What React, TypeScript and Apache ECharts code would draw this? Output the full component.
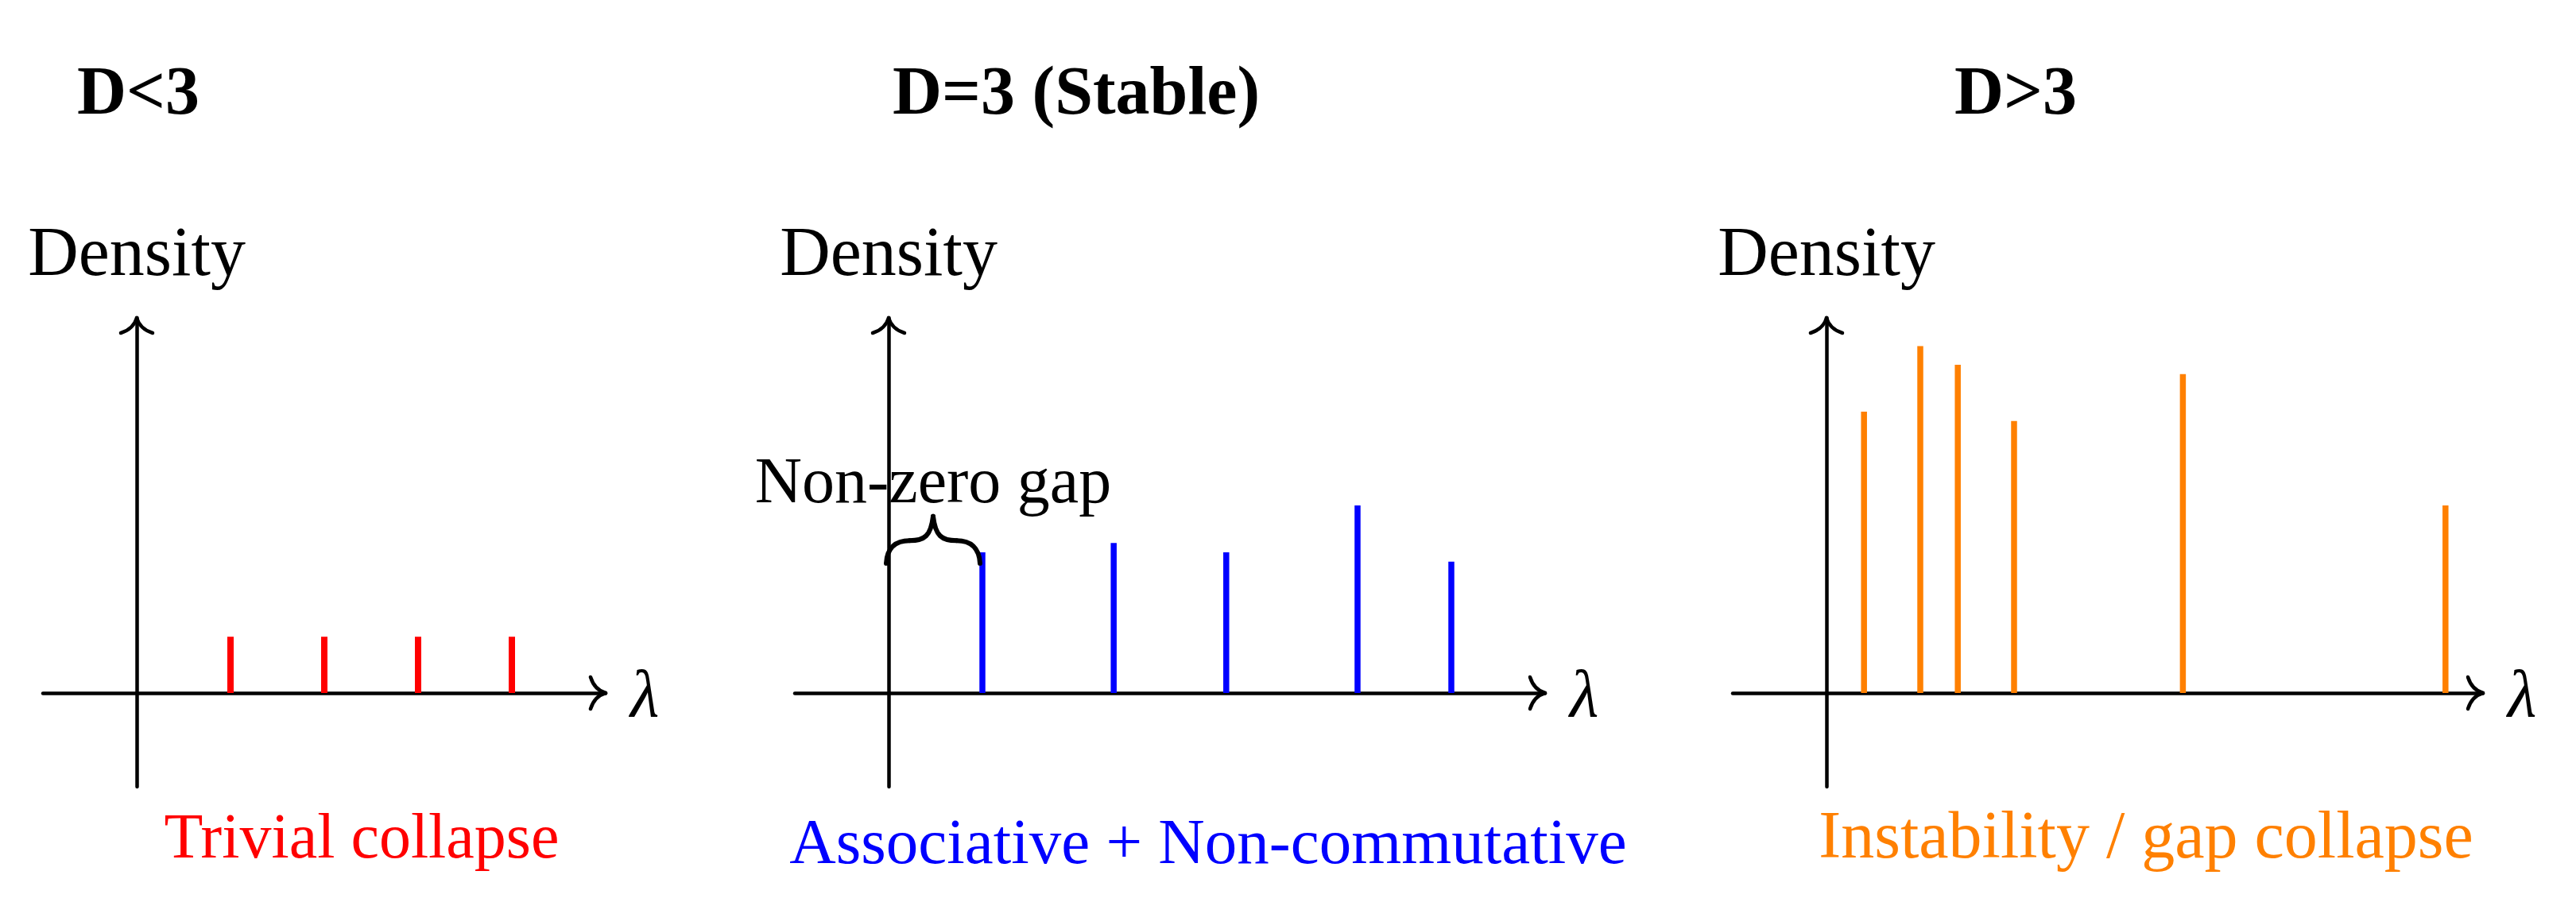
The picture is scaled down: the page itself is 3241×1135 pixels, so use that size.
import React, { useEffect, useRef } from "react";
import * as echarts from "echarts";

// ---------------- data ----------------
const panelTitles = ["D<3", "D=3 (Stable)", "D>3"];
const panelCaptions = ["Trivial collapse", "Associative + Non-commutative", "Instability / gap collapse"];
const yAxisName = "Density";
const xAxisName = "λ";
const gapLabel = "Non-zero gap";

const xMins = [-1, -1, -1];
const xMaxs = [5, 7, 7];
const yMin = -1;
const yMax = 4;

const lambdaLow = [1, 2, 3, 4];
const densityLow = [0.6, 0.6, 0.6, 0.6];
const lambdaStable = [1, 2.4, 3.6, 5, 6];
const densityStable = [1.5, 1.6, 1.5, 2.0, 1.4];
const lambdaHigh = [0.4, 1.0, 1.4, 2.0, 3.8, 6.6];
const densityHigh = [3.0, 3.7, 3.5, 2.9, 3.4, 2.0];
const gapStart = 0;
const gapEnd = 1;
const gapLevel = 1.4;

// ---------------- layout / style ----------------
const W = 3241;
const H = 1135;
const UNIT = 118;
const ORIGIN_Y = 872;
const ORIGIN_X = [172, 1118, 2298];
const COLORS = ["#ff0000", "#0000ff", "#ff8000"];
const BAR_W = [8, 7.5, 7.5];
const FONT = "'Liberation Serif', 'Times New Roman', serif";
const CENTRAL = 0.3375; // central baseline offset (em) for Liberation Serif

const TITLE_CX = [174, 1354, 2536];
const TITLE_SIZE = 86;
const TITLE_BASE = 143;
const DENS_SIZE = 88;
const DENS_BASE = 346;
const CAP_CX = [455, 1520, 2700];
const CAP_SIZE = [80, 81, 84];
const CAP_BASE = [1079, 1086, 1079];
const LAMBDA_SIZE = 84;

const seriesData = [
  lambdaLow.map((x, i) => [x, densityLow[i]]),
  lambdaStable.map((x, i) => [x, densityStable[i]]),
  lambdaHigh.map((x, i) => [x, densityHigh[i]]),
];

function textEl(text: string, x: number, y: number, size: number, opts: any = {}) {
  const align = opts.align || "center";
  return {
    type: "text",
    x,
    y,
    z: 50,
    style: {
      text,
      fill: opts.color || "#000",
      fontSize: size,
      fontFamily: FONT,
      fontWeight: opts.weight || "normal",
      fontStyle: opts.style || "normal",
      align,
      textAlign: align,
      verticalAlign: "middle",
      textVerticalAlign: "middle",
    },
  };
}

export default function App() {
  const ref = useRef<HTMLDivElement>(null);

  useEffect(() => {
    document.body.style.margin = "0";
    if (!ref.current) return;
    const chart = echarts.init(ref.current, null, { renderer: "svg", width: W, height: H });

    const grids: any[] = [];
    const xAxes: any[] = [];
    const yAxes: any[] = [];
    const series: any[] = [];
    const graphics: any[] = [];

    const axisLineStyle = { color: "#000", width: 4.5 };

    for (let i = 0; i < 3; i++) {
      grids.push({
        left: ORIGIN_X[i] + xMins[i] * UNIT,
        top: ORIGIN_Y - yMax * UNIT,
        width: (xMaxs[i] - xMins[i]) * UNIT,
        height: (yMax - yMin) * UNIT,
        containLabel: false,
      });
      xAxes.push({
        type: "value",
        gridIndex: i,
        min: xMins[i],
        max: xMaxs[i],
        axisLine: { show: true, onZero: true, lineStyle: axisLineStyle },
        axisTick: { show: false },
        axisLabel: { show: false },
        splitLine: { show: false },
      });
      yAxes.push({
        type: "value",
        gridIndex: i,
        min: yMin,
        max: yMax,
        axisLine: { show: true, onZero: true, lineStyle: axisLineStyle },
        axisTick: { show: false },
        axisLabel: { show: false },
        splitLine: { show: false },
      });

      // spectral lines
      const color = COLORS[i];
      const bw = BAR_W[i];
      series.push({
        type: "custom",
        xAxisIndex: i,
        yAxisIndex: i,
        z: 5,
        data: seriesData[i],
        encode: { x: 0, y: 1 },
        renderItem: (params: any, api: any) => {
          const x = api.value(0);
          const h = api.value(1);
          const p0 = api.coord([x, 0]);
          const p1 = api.coord([x, h]);
          return {
            type: "rect",
            shape: { x: p0[0] - bw / 2, y: p1[1], width: bw, height: p0[1] - p1[1] },
            style: { fill: color },
          };
        },
      });

      // arrow heads at the ends of both axes
      series.push({
        type: "custom",
        xAxisIndex: i,
        yAxisIndex: i,
        z: 6,
        data: [
          [xMaxs[i], 0, 0],
          [0, yMax, 1],
        ],
        encode: { x: 0, y: 1 },
        renderItem: (params: any, api: any) => {
          const p = api.coord([api.value(0), api.value(1)]);
          const dir = api.value(2);
          const st = { stroke: "#000", lineWidth: 4.5, fill: "none", lineCap: "round" };
          let wings: number[][];
          if (dir === 0) {
            wings = [
              [-19, -20, -14, -4],
              [-19, 20, -14, 4],
            ];
          } else {
            wings = [
              [-20, 19, -4, 14],
              [20, 19, 4, 14],
            ];
          }
          return {
            type: "group",
            children: wings.map((w) => ({
              type: "bezierCurve",
              shape: {
                x1: p[0] + w[0],
                y1: p[1] + w[1],
                cpx1: p[0] + w[2],
                cpy1: p[1] + w[3],
                x2: p[0],
                y2: p[1],
              },
              style: st,
            })),
          };
        },
      });

      // texts
      graphics.push(
        textEl(panelTitles[i], TITLE_CX[i], TITLE_BASE - CENTRAL * TITLE_SIZE, TITLE_SIZE, { weight: "bold" })
      );
      graphics.push(textEl(yAxisName, ORIGIN_X[i], DENS_BASE - CENTRAL * DENS_SIZE, DENS_SIZE));
      graphics.push(
        textEl(xAxisName, ORIGIN_X[i] + xMaxs[i] * UNIT + 31, ORIGIN_Y, LAMBDA_SIZE, {
          align: "left",
          style: "italic",
        })
      );
      graphics.push(
        textEl(panelCaptions[i], CAP_CX[i], CAP_BASE[i] - CENTRAL * CAP_SIZE[i], CAP_SIZE[i], {
          color: COLORS[i],
        })
      );
    }

    // brace marking the spectral gap in the stable panel
    series.push({
      type: "custom",
      xAxisIndex: 1,
      yAxisIndex: 1,
      z: 7,
      data: [[gapStart, gapLevel, gapEnd, gapLevel]],
      encode: { x: [0, 2], y: [1, 3] },
      renderItem: (params: any, api: any) => {
        const a = api.coord([api.value(0), api.value(1)]);
        const b = api.coord([api.value(2), api.value(3)]);
        const s = (b[0] - a[0]) / 120;
        const X = (u: number) => a[0] - 3 + u * s;
        const Y = (v: number) => a[1] + 2 + v * s;
        const st = { stroke: "#000", lineWidth: 6, fill: "none", lineCap: "round" };
        const seg = (pts: number[]) => ({
          type: "bezierCurve",
          shape: {
            x1: X(pts[0]),
            y1: Y(pts[1]),
            cpx1: X(pts[2]),
            cpy1: Y(pts[3]),
            cpx2: X(pts[4]),
            cpy2: Y(pts[5]),
            x2: X(pts[6]),
            y2: Y(pts[7]),
          },
          style: st,
        });
        const tipX = X(60);
        const tipY = Y(-60);
        const size = 82;
        return {
          type: "group",
          children: [
            seg([0, 0, 1, -20, 12, -29, 30, -29]),
            seg([30, -29, 49, -29, 57, -35, 60, -60]),
            seg([60, -60, 63, -35, 71, -29, 90, -29]),
            seg([90, -29, 108, -29, 119, -20, 120, 0]),
            {
              type: "text",
              x: tipX,
              y: tipY - 18 - CENTRAL * size,
              style: {
                text: gapLabel,
                fill: "#000",
                fontSize: size,
                fontFamily: FONT,
                align: "center",
                textAlign: "center",
                verticalAlign: "middle",
                textVerticalAlign: "middle",
              },
            },
          ],
        };
      },
    });

    chart.setOption({
      animation: false,
      backgroundColor: "#ffffff",
      grid: grids,
      xAxis: xAxes,
      yAxis: yAxes,
      series,
      graphic: { elements: graphics },
    });

    return () => {
      chart.dispose();
    };
  }, []);

  return (
    <div
      ref={ref}
      style={{ position: "absolute", left: 0, top: 0, width: W + "px", height: H + "px", background: "#fff" }}
    />
  );
}
